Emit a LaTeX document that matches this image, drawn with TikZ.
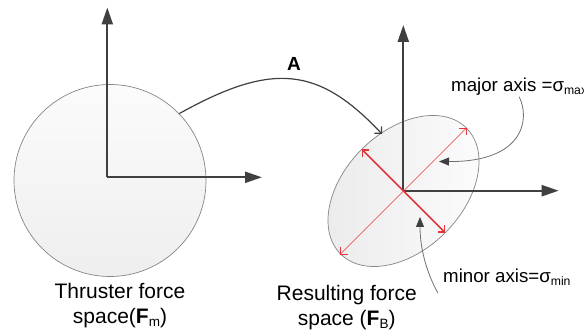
\documentclass[tikz,border=0pt]{standalone}
\usepackage{fontspec}
\setmainfont{Liberation Sans}
\usetikzlibrary{arrows.meta,shapes.geometric}
\definecolor{axisgray}{HTML}{404040}
\definecolor{ptrgray}{HTML}{707070}
\definecolor{edgegray}{HTML}{858585}
\definecolor{axred}{HTML}{E2363A}
\newcommand{\mysubs}[2]{\raisebox{-3pt}{\fontsize{#1}{#1}\selectfont #2}}
\begin{document}
\begin{tikzpicture}[x=1pt,y=-1pt,
  axisline/.style={draw=axisgray, line width=2.2pt, -{Triangle[length=17pt,width=11pt]}},
  conn/.style={draw=axisgray, line width=1.2pt, -{Straight Barb[length=5pt,width=10pt]}},
  ptr/.style={draw=ptrgray, line width=0.8pt, -{Triangle[length=10pt,width=8pt,color=axisgray]}},
  redthin/.style={draw=axred, line width=0.6pt, {Straight Barb[length=5pt,width=10pt]}-{Straight Barb[length=5pt,width=10pt]}},
  redthick/.style={draw=axred, line width=1.6pt, {Straight Barb[length=5pt,width=10pt]}-{Straight Barb[length=5pt,width=10pt]}},
  biglab/.style={font=\fontsize{21}{25}\selectfont, align=center, inner sep=0pt},
  smlab/.style={font=\fontsize{18.7}{22}\selectfont, inner sep=1pt},
  region/.style={draw=edgegray, line width=0.7pt}]
\useasboundingbox (0,0) rectangle (584,331);
\fill[white] (0,0) rectangle (584,331);

% left: thruster force space
\node[circle, region, minimum size=192pt, top color=gray!3, bottom color=gray!13] (circ) at (110,180.5) {};
\coordinate (lo) at (107.3,177.3);
\coordinate (ly) at (107.3,7.5);
\coordinate (lx) at (262,177.3);
\draw[axisline] (lo) -- (ly);
\draw[axisline] (lo) -- (lx);

% right: resulting force space
\node[ellipse, region, minimum width=178pt, minimum height=118pt, rotate=45,
      left color=gray!16, right color=gray!2] (ell) at (403.5,191) {};
\coordinate (ro) at (403.3,190.7);
\coordinate (ry) at (403.3,25);
\coordinate (rx) at (558.7,190.7);
\draw[axisline] (ro) -- (ry);
\draw[axisline] (ro) -- (rx);
\draw[redthin] (ell.west) -- (ell.east);
\draw[redthick] (ell.north) -- (ell.south);

% mapping A
\node[font=\bfseries\fontsize{19}{19}\selectfont, inner sep=0pt] (A) at (294,64) {A};
\coordinate (atip) at (382,134);
\draw[conn] (circ.44) .. controls (272,62) and (318,66) .. (atip);

% labels
\node[biglab, anchor=north] (lt) at (120,283) {Thruster force\\space(\textbf{F}\mysubs{13.5}{m})};
\node[biglab, anchor=north] (rt) at (346.7,284.7) {Resulting force\\space (\textbf{F}\mysubs{13.5}{B})};

\node[smlab, anchor=base west] (maj) at (450,91.7) {major axis =σ\mysubs{12.2}{max}};
\node[smlab, anchor=base west] (mnl) at (442,283) {minor axis=σ\mysubs{12.2}{min}};

\coordinate (majtip) at (439,161.5);
\coordinate (mintip) at (420,217);
\draw[ptr] (maj.south) .. controls (530,118) and (525,162) .. (majtip);
\draw[ptr] ([shift={(-4,6)}]mnl.south west) .. controls (425,270) and (420,245) .. (mintip);
\end{tikzpicture}
\end{document}
